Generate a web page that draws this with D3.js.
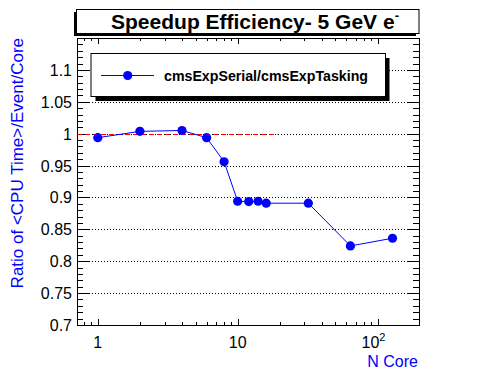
<!DOCTYPE html>
<html>
<head>
<meta charset="utf-8">
<script src="https://cdn.jsdelivr.net/npm/d3@7/dist/d3.min.js"></script>
<style>
  html, body { margin: 0; padding: 0; background: #fff; }
  svg { display: block; font-family: "Liberation Sans", Arial, Helvetica, sans-serif; }
</style>
</head>
<body>
<svg id="chart" width="496" height="372"></svg>
<script>
// ---- data ----
const nCores = [1, 2, 4, 6, 8, 10, 12, 14, 16, 32, 64, 128];
const ratio  = [0.9937, 1.0036, 1.005, 0.9937, 0.956, 0.894, 0.8935, 0.894, 0.891, 0.891, 0.824, 0.836];
const yTickValues = [0.7, 0.75, 0.8, 0.85, 0.9, 0.95, 1, 1.05, 1.1];
const yTickLabels = ["0.7", "0.75", "0.8", "0.85", "0.9", "0.95", "1", "1.05", "1.1"];
const xTickValues = [1, 10, 100];
const refLine = { y: 1.0, xEnd: 19.3 };
const titleText = "Speedup Efficiency- 5 GeV e";
const legendLabel = "cmsExpSerial/cmsExpTasking";
const xTitle = "N Core";
const yTitle = "Ratio of <CPU Time>/Event/Core";

// ---- layout ----
const L = 77, R = 419, T = 38, B = 325;
const svg = d3.select("#chart");

const x = d3.scaleLog().domain([0.71, 198]).range([L, R]);
const y = d3.scaleLinear().domain([0.7, 1.15]).range([B, T]);

// grid (horizontal dotted)
svg.append("g").selectAll("line")
  .data(yTickValues.filter(v => v > 0.7))
  .join("line")
  .attr("x1", L).attr("x2", R)
  .attr("y1", d => Math.round(y(d)) + 0.5).attr("y2", d => Math.round(y(d)) + 0.5)
  .attr("stroke", "#000").attr("stroke-width", 1).attr("stroke-dasharray", "1,2");

// minor ticks
const yMinor = d3.range(70, 116).map(v => v / 100).filter(v => Math.round(v * 100) % 5 !== 0);
const xMinor = [];
[0.1, 1, 10, 100].forEach(dec => { for (let k = 2; k <= 9; k++) { const v = dec * k; if (v >= 0.71 && v <= 198) xMinor.push(v); } });

const axes = svg.append("g").attr("stroke", "#000").attr("stroke-width", 1);
// y left & right ticks
yTickValues.forEach(v => {
  const yy = Math.round(y(v)) + 0.5;
  axes.append("line").attr("x1", L).attr("x2", L + 12).attr("y1", yy).attr("y2", yy);
  axes.append("line").attr("x1", R - 12).attr("x2", R).attr("y1", yy).attr("y2", yy);
});
yMinor.forEach(v => {
  const yy = Math.round(y(v)) + 0.5;
  axes.append("line").attr("x1", L).attr("x2", L + 6).attr("y1", yy).attr("y2", yy);
  axes.append("line").attr("x1", R - 6).attr("x2", R).attr("y1", yy).attr("y2", yy);
});
// x bottom & top ticks
xTickValues.forEach(v => {
  const xx = Math.round(x(v)) + 0.5;
  axes.append("line").attr("x1", xx).attr("x2", xx).attr("y1", B).attr("y2", B - 6);
  axes.append("line").attr("x1", xx).attr("x2", xx).attr("y1", T).attr("y2", T + 6);
});
xMinor.forEach(v => {
  const xx = Math.round(x(v)) + 0.5;
  axes.append("line").attr("x1", xx).attr("x2", xx).attr("y1", B).attr("y2", B - 3);
  axes.append("line").attr("x1", xx).attr("x2", xx).attr("y1", T).attr("y2", T + 3);
});

// frame
svg.append("rect").attr("x", L + 0.5).attr("y", T + 0.5).attr("width", R - L).attr("height", B - T)
  .attr("fill", "none").attr("stroke", "#000").attr("stroke-width", 1);

// y tick labels
svg.append("g").selectAll("text").data(yTickValues).join("text")
  .attr("x", L - 5).attr("y", d => y(d) + 6)
  .attr("text-anchor", "end").attr("font-size", 16).attr("fill", "#000")
  .text((d, i) => yTickLabels[i]);

// x tick labels
const xl = svg.append("g").attr("font-size", 16).attr("fill", "#000");
xl.append("text").attr("x", x(1)).attr("y", 348).attr("text-anchor", "middle").text("1");
xl.append("text").attr("x", x(10)).attr("y", 348).attr("text-anchor", "middle").text("10");
const t100 = xl.append("text").attr("x", x(100) - 4).attr("y", 348).attr("text-anchor", "middle");
t100.append("tspan").text("10");
t100.append("tspan").attr("dy", -7).attr("font-size", 11).text("2");

// axis titles
svg.append("text").attr("x", R - 1).attr("y", 367).attr("text-anchor", "end")
  .attr("font-size", 16).attr("fill", "#0000ff").text(xTitle);
svg.append("text").attr("transform", `translate(23,${T}) rotate(-90)`).attr("text-anchor", "end")
  .attr("font-size", 17).attr("fill", "#0000ff").text(yTitle);

// reference dashed line
svg.append("line").attr("x1", L).attr("x2", x(refLine.xEnd))
  .attr("y1", Math.round(y(refLine.y)) + 0.5).attr("y2", Math.round(y(refLine.y)) + 0.5)
  .attr("stroke", "#ff0000").attr("stroke-width", 1).attr("stroke-dasharray", "5,3");

// data line + markers
const pts = nCores.map((n, i) => [n, ratio[i]]);
svg.append("path").datum(pts)
  .attr("d", d3.line().x(d => x(d[0])).y(d => y(d[1])))
  .attr("fill", "none").attr("stroke", "#0000ff").attr("stroke-width", 1);
svg.append("g").selectAll("circle").data(pts).join("circle")
  .attr("cx", d => x(d[0])).attr("cy", d => y(d[1])).attr("r", 4.6).attr("fill", "#0000ff");

// legend
svg.append("rect").attr("x", 95.5).attr("y", 58).attr("width", 294).attr("height", 43).attr("fill", "#000");
svg.append("rect").attr("x", 91).attr("y", 53.5).attr("width", 294.5).attr("height", 43)
  .attr("fill", "#fff").attr("stroke", "#000").attr("stroke-width", 1);
svg.append("line").attr("x1", 101).attr("x2", 154).attr("y1", 75.5).attr("y2", 75.5)
  .attr("stroke", "#0000ff").attr("stroke-width", 1);
svg.append("circle").attr("cx", 127.7).attr("cy", 75.5).attr("r", 4.6).attr("fill", "#0000ff");
svg.append("text").attr("x", 164).attr("y", 80.5).attr("font-size", 14.2).attr("font-weight", "bold")
  .attr("fill", "#000").text(legendLabel);

// title box
svg.append("rect").attr("x", 74).attr("y", 12).attr("width", 342).attr("height", 24).attr("fill", "#000");
svg.append("rect").attr("x", 76.5).attr("y", 9.5).attr("width", 342.5).attr("height", 24)
  .attr("fill", "#fff").attr("stroke", "#000").attr("stroke-width", 1);
const tt = svg.append("text").attr("x", 255).attr("y", 28.5).attr("text-anchor", "middle")
  .attr("font-size", 21).attr("font-weight", "bold").attr("fill", "#000");
tt.append("tspan").text(titleText);
tt.append("tspan").attr("dy", -9).attr("font-size", 13).text("-");
</script>
</body>
</html>
